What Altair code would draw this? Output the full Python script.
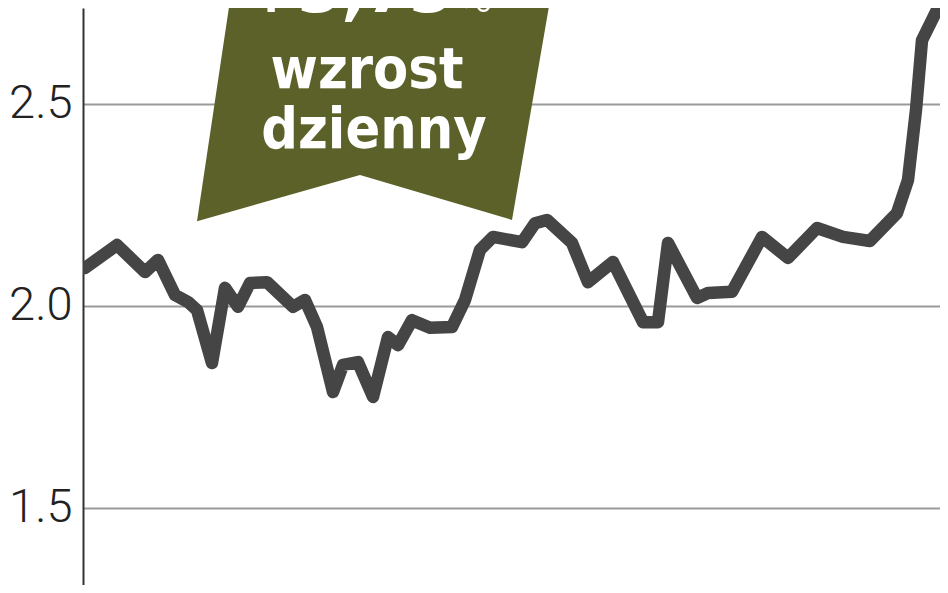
import altair as alt
import pandas as pd

# price series (day index, value)
days = [0.2, 3.4, 6.2, 7.5, 9.2, 10.5, 11.4, 12.9, 14.2, 15.5, 16.7, 18.4, 21.0, 22.2,
        23.4, 25.0, 26.0, 27.5, 29.0, 30.5, 31.5, 32.9, 34.7, 36.9, 38.2, 39.7, 41.0,
        43.9, 45.2, 46.4, 48.9, 50.5, 53.0, 56.0, 57.5, 58.5, 61.4, 62.5, 64.9, 67.9,
        70.5, 73.4, 76.0, 78.7, 81.4, 82.5, 83.3, 83.9, 85.4, 86.4]
values = [2.094, 2.151, 2.084, 2.114, 2.027, 2.010, 1.990, 1.859, 2.045, 1.998, 2.057,
          2.059, 1.998, 2.015, 1.948, 1.787, 1.854, 1.861, 1.775, 1.923, 1.903, 1.965,
          1.946, 1.948, 2.015, 2.139, 2.171, 2.158, 2.205, 2.213, 2.156, 2.059, 2.109,
          1.960, 1.960, 2.156, 2.020, 2.032, 2.035, 2.171, 2.119, 2.193, 2.171, 2.161,
          2.230, 2.312, 2.485, 2.658, 2.733, 2.782]

# annotation banner (polygon vertices in data units)
banner_x = [15.3, 47.4, 42.9, 27.7, 11.4, 15.3]
banner_y = [2.856, 2.856, 2.213, 2.324, 2.210, 2.856]

# annotation texts
label_text = ["+3,73", "%", "wzrost", "dzienny"]
label_x = [37.0, 37.3, 28.4, 29.1]
label_y = [2.728, 2.728, 2.540, 2.391]

y_ticks = [1.5, 2.0, 2.5]
Y_DOMAIN = [1.3094, 2.7376]
X_DOMAIN = [0, 85.7]

GREEN = "#5b6128"
LINE = "#454545"
FONT_COND = "DejaVu Sans Condensed, Roboto Condensed, Liberation Sans Narrow, Roboto"

df = pd.DataFrame({"day": days, "value": values})
bdf = pd.DataFrame({"day": banner_x, "value": banner_y, "order": list(range(len(banner_x)))})
tdf = pd.DataFrame({"day": label_x, "value": label_y, "text": label_text})

xs = alt.Scale(domain=X_DOMAIN, nice=False, zero=False)
ys = alt.Scale(domain=Y_DOMAIN, nice=False, zero=False)

y_axis = alt.Axis(values=y_ticks, format=".1f", ticks=False, tickSize=0,
                  labelFont="Roboto", labelFontWeight=300, labelFontSize=47,
                  labelColor="#222222", labelPadding=11,
                  domain=True, domainColor="#333333", domainWidth=2,
                  grid=True, gridColor="#9a9a9a", gridWidth=2)


def Y():
    return alt.Y("value:Q", scale=ys, title=None, axis=y_axis)


def X():
    return alt.X("day:Q", scale=xs, axis=None)


line = alt.Chart(df).mark_line(color=LINE, strokeWidth=12.5, strokeJoin="round",
                               strokeCap="round", clip=True).encode(x=X(), y=Y())

banner = alt.Chart(bdf).mark_line(filled=True, color=GREEN, clip=True).encode(
    x=X(), y=Y(), order="order:Q")

big = tdf[tdf.text.isin(["wzrost", "dzienny"])]
texts = alt.Chart(big).mark_text(font=FONT_COND, fontWeight="bold", fontSize=57,
                                 color="white", align="center",
                                 baseline="alphabetic").encode(
    x=X(), y=Y(), text="text:N")

pct = alt.Chart(tdf[tdf.text == "+3,73"]).mark_text(
    font=FONT_COND, fontWeight="bold", fontSize=70, color="white", align="right",
    baseline="alphabetic").encode(x=X(), y=Y(), text="text:N")

pct2 = alt.Chart(tdf[tdf.text == "%"]).mark_text(
    font="Roboto", fontWeight=300, fontSize=50, color="white", align="left",
    baseline="alphabetic").encode(x=X(), y=Y(), text="text:N")

chart = alt.layer(line, banner, texts, pct, pct2).properties(
    width=857, height=577,
    autosize=alt.AutoSizeParams(type="none"),
    padding={"left": 75, "top": 0, "right": 0, "bottom": 0},
    background="white",
).configure_view(stroke=None)

chart.save("out.html", embed_options={"renderer": "svg", "actions": False})
